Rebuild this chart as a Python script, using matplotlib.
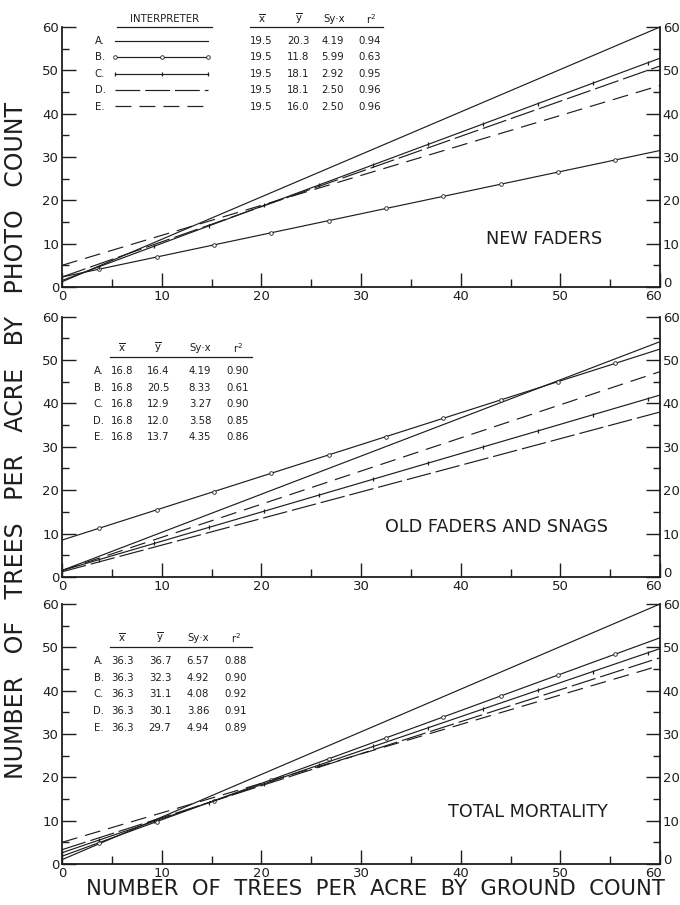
import numpy as np
import matplotlib
matplotlib.use("Agg")
import matplotlib.pyplot as plt
from matplotlib.ticker import MultipleLocator
from matplotlib.transforms import ScaledTranslation

# ---------------- data ----------------
interpreters = ["A.", "B.", "C.", "D.", "E."]
panel_titles = ["NEW FADERS", "OLD FADERS AND SNAGS", "TOTAL MORTALITY"]

# regression line value at ground count 0 and at ground count 60
new_start = [1.2, 2.3, 1.5, 2.3, 5.0]
new_end = [60.0, 31.5, 52.8, 51.0, 46.5]
old_start = [1.5, 8.5, 1.5, 1.2, 1.5]
old_end = [54.2, 52.5, 41.9, 38.0, 47.3]
tot_start = [1.0, 1.8, 2.6, 3.3, 5.0]
tot_end = [60.0, 52.2, 49.7, 47.6, 45.8]

new_xbar = ["19.5"] * 5
new_ybar = ["20.3", "11.8", "18.1", "18.1", "16.0"]
new_syx = ["4.19", "5.99", "2.92", "2.50", "2.50"]
new_r2 = ["0.94", "0.63", "0.95", "0.96", "0.96"]

old_xbar = ["16.8"] * 5
old_ybar = ["16.4", "20.5", "12.9", "12.0", "13.7"]
old_syx = ["4.19", "8.33", "3.27", "3.58", "4.35"]
old_r2 = ["0.90", "0.61", "0.90", "0.85", "0.86"]

tot_xbar = ["36.3"] * 5
tot_ybar = ["36.7", "32.3", "31.1", "30.1", "29.7"]
tot_syx = ["6.57", "4.92", "4.08", "3.86", "4.94"]
tot_r2 = ["0.88", "0.90", "0.92", "0.91", "0.89"]

x_ticks = [0, 10, 20, 30, 40, 50, 60]
y_ticks = [0, 10, 20, 30, 40, 50, 60]

# ---------------- style ----------------
plt.rcParams['font.family'] = ['DejaVu Sans']
INK = "#1e1e1e"
W, H = 680, 905
fig = plt.figure(figsize=(W / 100, H / 100), dpi=100)
fig.patch.set_facecolor("white")


def fx(px):
    return px / W


def fy(py):
    return 1 - py / H


styles = [
    dict(ls="-", marker=None),
    dict(ls="-", marker="o", ms=2.6, mfc="white", mew=0.6),
    dict(ls="-", marker="|", ms=3.2, mew=0.9),
    dict(ls=(0, (21, 4.2)), marker=None),
    dict(ls=(0, (13.5, 6.8)), marker=None),
]
marker_step = [None, 23, 22, None, None]

panels_px = [(27, 287), (316.5, 577), (604, 864)]
left_px, right_px = 62, 660

starts = [new_start, old_start, tot_start]
ends = [new_end, old_end, tot_end]
label_pos = [(48.4, 11.0), (43.6, 11.5), (46.7, 12.0)]

axes = []
for i, (top, bot) in enumerate(panels_px):
    ax = fig.add_axes([fx(left_px), fy(bot), fx(right_px - left_px), (bot - top) / H])
    axes.append(ax)
    ax.set_xlim(0, 60)
    ax.set_ylim(0, 60)
    ax.spines["top"].set_visible(False)
    for s in ["left", "right", "bottom"]:
        ax.spines[s].set_linewidth(1.3)
        ax.spines[s].set_color(INK)
    ax.set_xticks(x_ticks)
    ax.set_yticks(y_ticks)
    ax.xaxis.set_minor_locator(MultipleLocator(5))
    ax.yaxis.set_minor_locator(MultipleLocator(5))
    ax.tick_params(axis="both", which="both", direction="in", color=INK,
                   labelcolor=INK, labelsize=9.5, width=1.0)
    ax.tick_params(axis="y", which="both", right=True, labelright=True, pad=2)
    ax.tick_params(axis="y", which="major", length=10)
    ax.tick_params(axis="y", which="minor", length=5)
    ax.tick_params(axis="x", which="major", length=10, pad=2)
    ax.tick_params(axis="x", which="minor", length=6)
    fig.canvas.draw()
    # corner labels: x "60" sits to the left, right-hand "0" is raised
    xl = ax.get_xticklabels()
    xl[-1].set_horizontalalignment("right")
    xl[-1].set_transform(xl[-1].get_transform() +
                         ScaledTranslation(2 / 100, 0, fig.dpi_scale_trans))
    for t in ax.yaxis.get_major_ticks()[:1]:
        t.label2.set_transform(t.label2.get_transform() +
                               ScaledTranslation(0, 5 / 100, fig.dpi_scale_trans))

    xs = np.linspace(0, 60, 241)
    for k in range(5):
        a, e = starts[i][k], ends[i][k]
        ys = a + (e - a) * xs / 60.0
        st = styles[k]
        kw = dict(color=INK, lw=0.85, linestyle=st["ls"])
        if st["marker"]:
            kw.update(marker=st["marker"], ms=st["ms"], mew=st["mew"],
                      markevery=slice(marker_step[k] // 2 + 4, None, marker_step[k]))
            if "mfc" in st:
                kw["mfc"] = st["mfc"]
        ax.plot(xs, ys, **kw)

    ax.text(label_pos[i][0], label_pos[i][1], panel_titles[i], ha="center",
            va="center", fontsize=12.7, color=INK)

# ---------------- tables ----------------
TXT = dict(color=INK, fontsize=7.3, va="center", ha="center")

# top panel: interpreter legend + stats
fig.text(fx(165), fy(19), "INTERPRETER", **TXT)
fig.add_artist(plt.Line2D([fx(117), fx(212)], [fy(27), fy(27)], color=INK, lw=0.9))
hdr_x = [262, 299, 334, 371]
hdrs = [r"$\overline{\mathrm{x}}$", r"$\overline{\mathrm{y}}$", "Sy·x", r"r$^2$"]
for hx, h in zip(hdr_x, hdrs):
    fig.text(fx(hx), fy(19), h, **TXT)
fig.add_artist(plt.Line2D([fx(250), fx(383)], [fy(27.5), fy(27.5)], color=INK, lw=0.9))

row_y = [41.5, 57.5, 74, 90, 106.5]
cols_top = [new_xbar, new_ybar, new_syx, new_r2]
for r in range(5):
    fig.text(fx(100), fy(row_y[r]), interpreters[r], **TXT)
    st = styles[r]
    kw = dict(color=INK, lw=0.85, linestyle=st["ls"])
    if st["marker"]:
        kw.update(marker=st["marker"], ms=st["ms"], mew=st["mew"], markevery=[0, 2, 4])
        if "mfc" in st:
            kw["mfc"] = st["mfc"]
    xx = np.linspace(fx(115), fx(208), 5)
    ln = plt.Line2D(xx, [fy(row_y[r])] * 5, **kw)
    fig.add_artist(ln)
    for c in range(4):
        fig.text(fx(hdr_x[c] - 1), fy(row_y[r]), cols_top[c][r], **TXT)


def stats_table(header_y, rows_y, cols, xs_col):
    for hx, h in zip(xs_col, hdrs):
        fig.text(fx(hx), fy(header_y), h, **TXT)
    fig.add_artist(plt.Line2D([fx(110), fx(252)], [fy(header_y + 9), fy(header_y + 9)],
                              color=INK, lw=0.9))
    for r in range(5):
        fig.text(fx(99), fy(rows_y[r]), interpreters[r], **TXT)
        for c in range(4):
            fig.text(fx(xs_col[c]), fy(rows_y[r]), cols[c][r], **TXT)


stats_table(348, [371, 387.5, 404, 420.5, 437],
            [old_xbar, old_ybar, old_syx, old_r2], [122, 158, 200, 238])
stats_table(638, [661, 677.5, 694, 711, 727.5],
            [tot_xbar, tot_ybar, tot_syx, tot_r2], [122, 160, 198, 236])

# ---------------- axis titles ----------------
fig.text(fx(16), fy(440), "NUMBER   OF   TREES   PER   ACRE   BY   PHOTO   COUNT",
         rotation=90, ha="center", va="center", fontsize=17, color=INK)
fig.text(fx(375), fy(889), "NUMBER  OF  TREES  PER  ACRE  BY  GROUND  COUNT",
         ha="center", va="center", fontsize=15.2, color=INK)

fig.savefig("out.png", dpi=100, facecolor="white")
